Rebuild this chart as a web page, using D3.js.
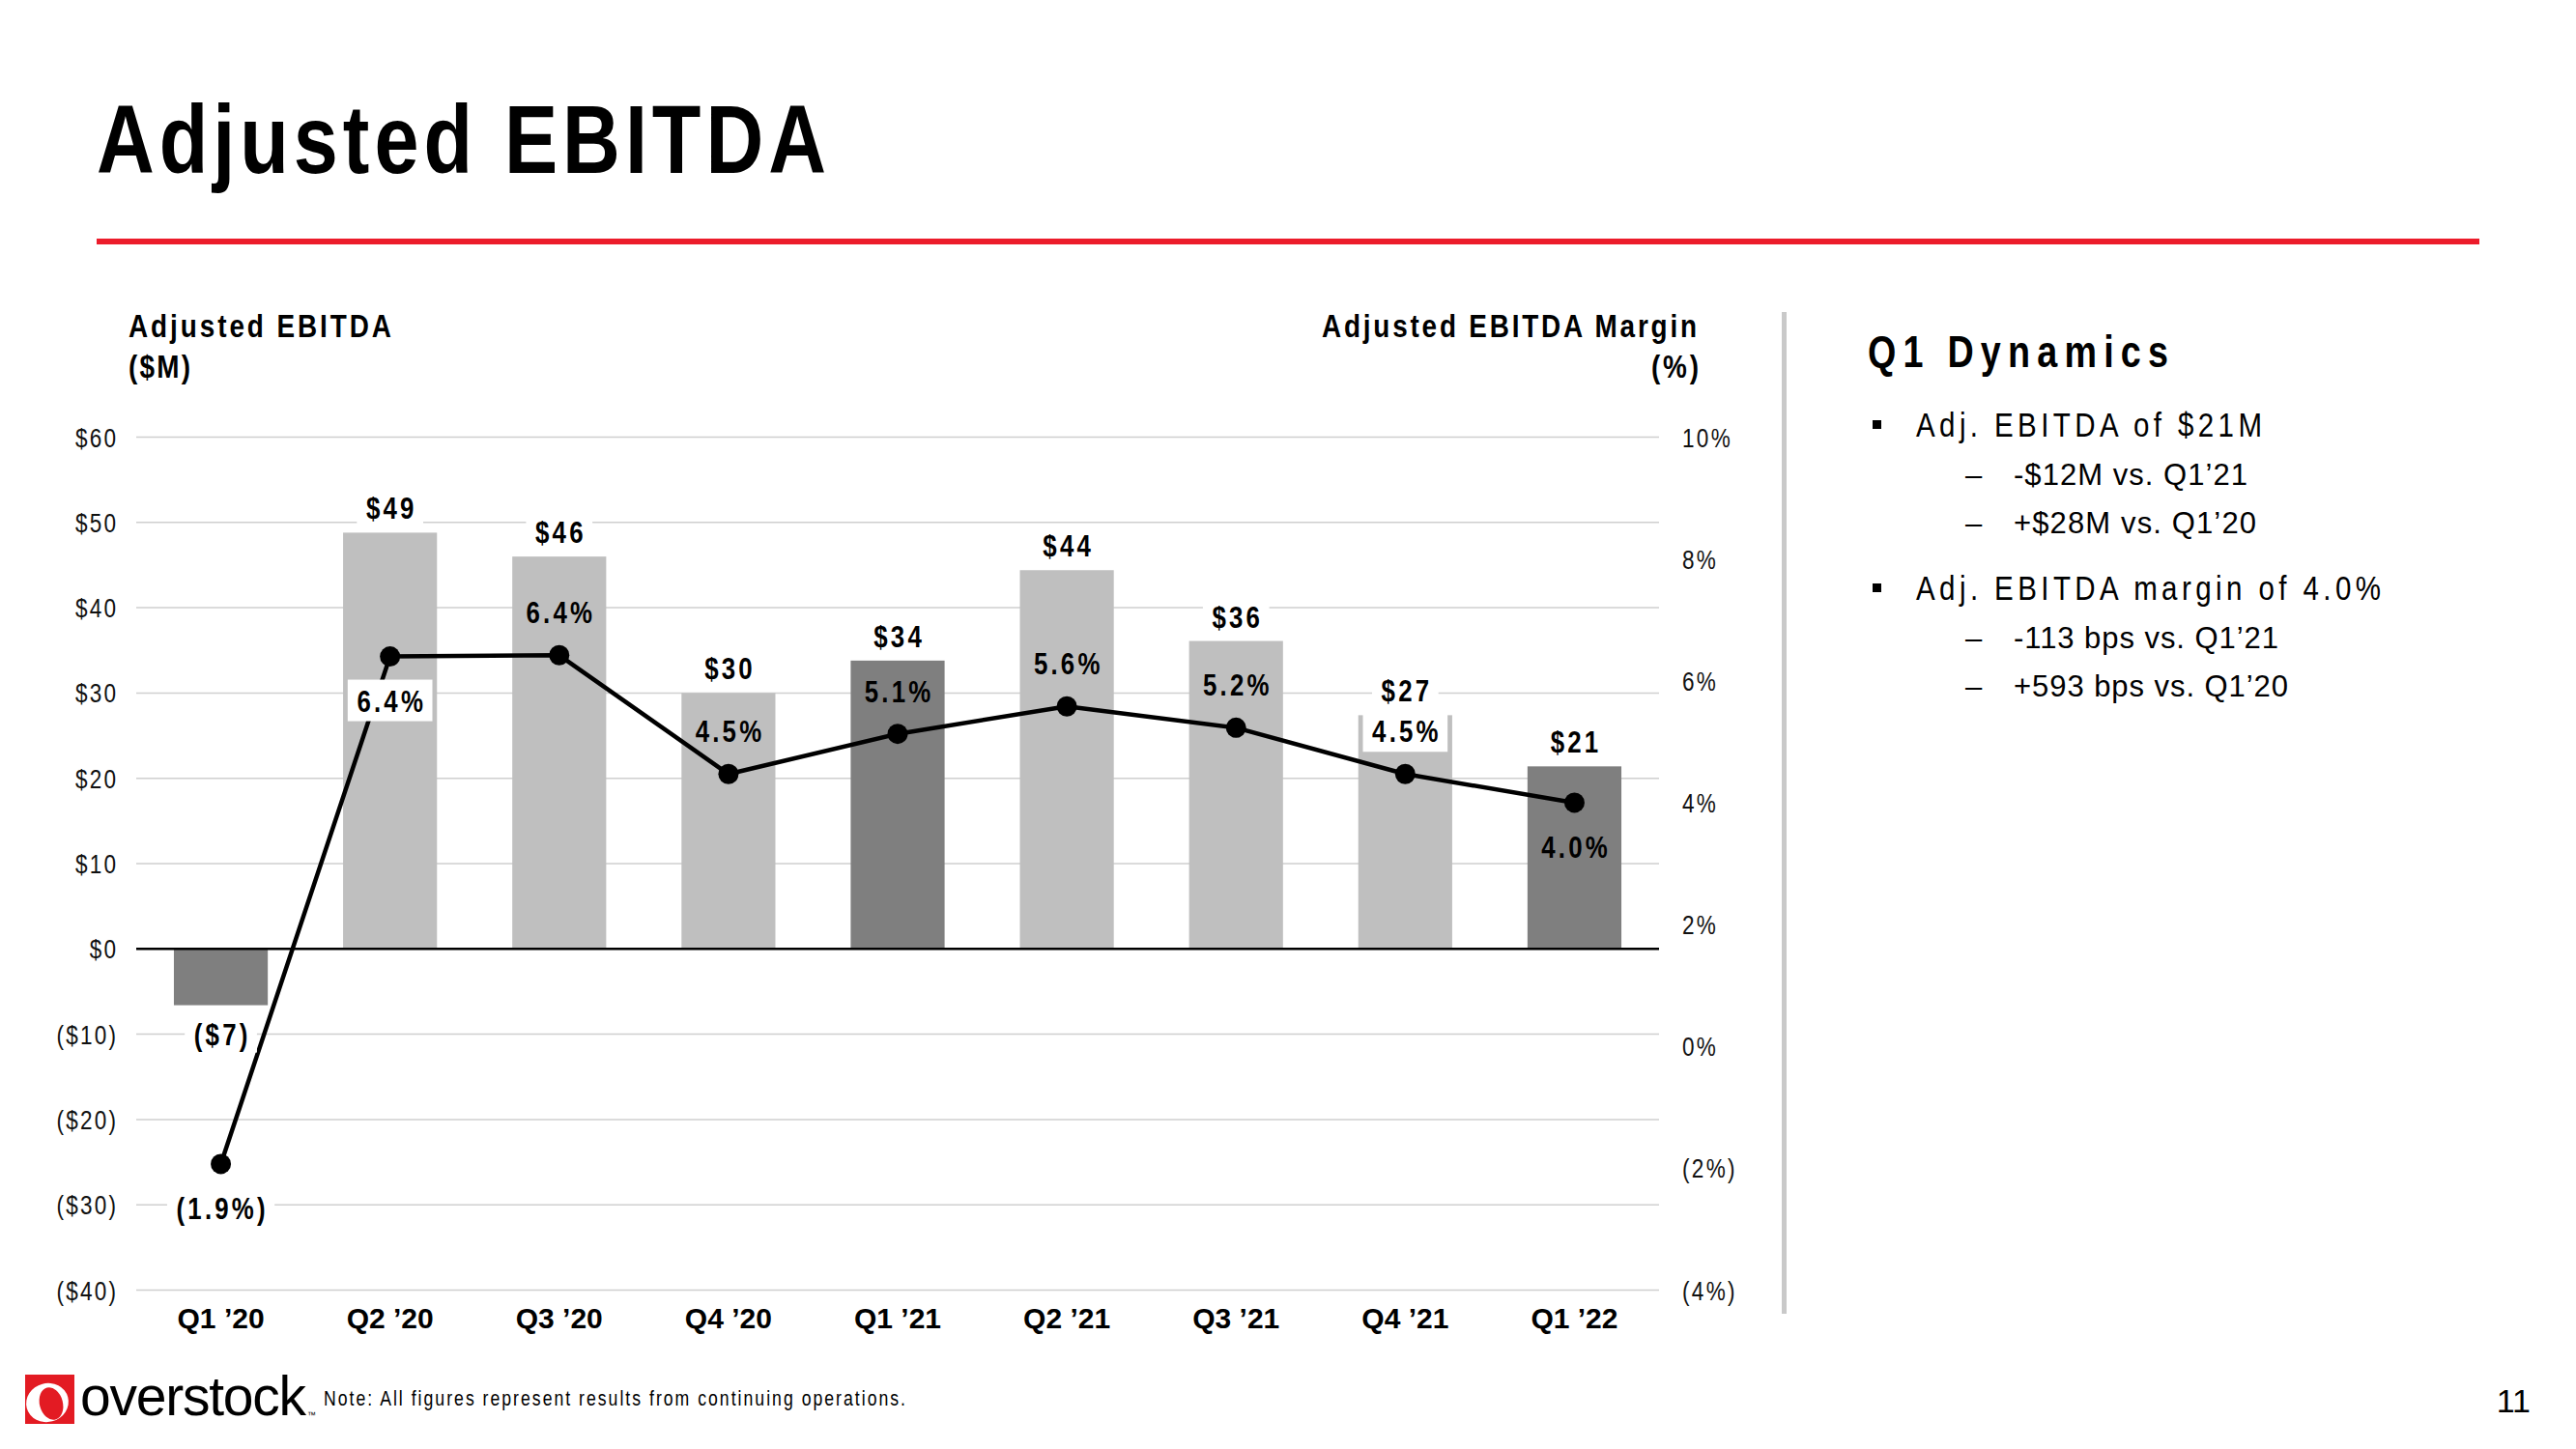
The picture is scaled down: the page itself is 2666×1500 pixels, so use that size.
<!DOCTYPE html>
<html><head><meta charset="utf-8">
<script src="https://cdn.jsdelivr.net/npm/d3@7"></script>
<style>html,body{margin:0;padding:0;background:#fff;overflow:hidden} svg{display:block}</style>
</head><body>
<svg id="chart" width="2666" height="1500"></svg>
<script>
// ---------- data ----------
const categories = ["Q1 ’20","Q2 ’20","Q3 ’20","Q4 ’20","Q1 ’21","Q2 ’21","Q3 ’21","Q4 ’21","Q1 ’22"];
const ebitda = [-6.6, 48.8, 46.0, 30.0, 33.8, 44.4, 36.1, 27.4, 21.4];      // $M
const margin = [-1.93, 6.4, 6.42, 4.47, 5.13, 5.58, 5.23, 4.47, 4.0];      // %
const isQ1 = [true, false, false, false, true, false, false, false, true];
const marginLabelSide = ["below","below","above","above","above","above","above","above","below"];
const marginLabelBoxed = [true, true, false, false, false, false, false, true, false];
const leftTicks = [-40,-30,-20,-10,0,10,20,30,40,50,60];
const rightTicks = [-4,-2,0,2,4,6,8,10];
const titleText = "Adjusted EBITDA";
const leftAxisTitle = ["Adjusted EBITDA", "($M)"];
const rightAxisTitle = ["Adjusted EBITDA Margin", "(%)"];
const panelTitle = "Q1 Dynamics";
const bulletMain = ["Adj. EBITDA of $21M", "Adj. EBITDA margin of 4.0%"];
const bulletSubs = [["-$12M vs. Q1’21", "+$28M vs. Q1’20"], ["-113 bps vs. Q1’21", "+593 bps vs. Q1’20"]];
const noteText = "Note: All figures represent results from continuing operations.";
const pageNumber = "11";

// ---------- font detection ----------
function hasFont(name){
  const c = document.createElement('canvas').getContext('2d');
  const t = 'AdjustedEBITDAmmmwwwlli1234567890';
  c.font = '40px monospace'; const a = c.measureText(t).width;
  c.font = `40px "${name}", monospace`; const b = c.measureText(t).width;
  return Math.abs(a-b) > 0.5;
}
const narrowOK = hasFont('Liberation Sans Narrow');
const NARROW = narrowOK ? "'Liberation Sans Narrow', 'Arial Narrow', sans-serif" : "'Liberation Sans', Arial, sans-serif";
const NSX = narrowOK ? 1 : 0.82;
const WIDE = "'Liberation Sans', Arial, sans-serif";

const svg = d3.select('#chart');

function txt(parent, o){
  const sx = o.narrow ? NSX : 1;
  const ls = o.ls || 0;
  const g = parent.append('g').attr('transform', `translate(${o.x},${o.y}) scale(${sx},1)`);
  const t = g.append('text')
    .attr('x', 0).attr('y', 0)
    .attr('font-family', o.narrow ? NARROW : WIDE)
    .attr('font-size', o.size)
    .attr('font-weight', o.bold ? 700 : 400)
    .attr('fill', o.fill || '#000')
    .attr('text-anchor', o.anchor || 'start')
    .text(o.text);
  if (o.len) {
    t.attr('textLength', o.len / sx).attr('lengthAdjust', 'spacing');
  } else if (ls) {
    t.attr('letter-spacing', ls / sx);
    if (o.anchor === 'end') t.attr('dx', ls / sx);
    if (o.anchor === 'middle') t.attr('dx', ls / (2*sx));
  }
  return {g, t, width: () => t.node().getComputedTextLength() * sx};
}

// ---------- header ----------
txt(svg, {x: 100, y: 179, text: titleText, size: 101, bold: true, narrow: true, len: 755});
svg.append('rect').attr('x', 100).attr('y', 247).attr('width', 2466).attr('height', 6).attr('fill', '#EC1C2B');

// ---------- scales ----------
const x = d3.scaleBand().domain(categories).range([141, 1717]).paddingInner(0.445).paddingOuter(0.2225);
const yL = d3.scaleLinear().domain([-40, 60]).range([1335.5, 452.5]);
const yR = d3.scaleLinear().domain([-4, 10]).range([1335.5, 452.5]);
const cx = c => x(c) + x.bandwidth()/2;

const plot = svg.append('g');

// gridlines
plot.append('g').selectAll('line').data(leftTicks.filter(d => d !== 0)).join('line')
  .attr('x1', 141).attr('x2', 1717)
  .attr('y1', d => yL(d)).attr('y2', d => yL(d))
  .attr('stroke', '#CFCFCF').attr('stroke-width', 1.5);

// left axis labels
const fmtL = v => v < 0 ? `($${Math.abs(v)})` : `$${v}`;
leftTicks.forEach(v => txt(plot, {x: 120, y: yL(v) + 10, text: fmtL(v), size: 27.5, narrow: true, ls: 2.2, anchor: 'end', fill: '#111'}));
// right axis labels
const fmtR = v => v < 0 ? `(${Math.abs(v)}%)` : `${v}%`;
rightTicks.forEach(v => txt(plot, {x: 1741, y: yR(v) + 10, text: fmtR(v), size: 27.5, narrow: true, ls: 2.3, anchor: 'start', fill: '#111'}));

// axis titles
txt(svg, {x: 133, y: 349, text: leftAxisTitle[0], size: 34, bold: true, narrow: true, len: 272});
txt(svg, {x: 133, y: 391, text: leftAxisTitle[1], size: 34, bold: true, narrow: true, len: 64});
txt(svg, {x: 1368, y: 349, text: rightAxisTitle[0], size: 34, bold: true, narrow: true, len: 388});
txt(svg, {x: 1709, y: 391, text: rightAxisTitle[1], size: 34, bold: true, narrow: true, len: 49});

// bars
const data = categories.map((c, i) => ({c, v: ebitda[i], m: margin[i], q1: isQ1[i], side: marginLabelSide[i], boxed: marginLabelBoxed[i]}));
plot.append('g').selectAll('rect').data(data).join('rect')
  .attr('x', d => x(d.c)).attr('width', x.bandwidth())
  .attr('y', d => yL(Math.max(0, d.v)))
  .attr('height', d => Math.abs(yL(d.v) - yL(0)))
  .attr('fill', d => d.q1 ? '#7F7F7F' : '#BFBFBF');

// zero line
plot.append('line').attr('x1', 141).attr('x2', 1717).attr('y1', yL(0)).attr('y2', yL(0))
  .attr('stroke', '#000').attr('stroke-width', 2.5);

// margin line + markers
const line = d3.line().x(d => cx(d.c)).y(d => yR(d.m));
plot.append('path').datum(data).attr('d', line).attr('fill', 'none').attr('stroke', '#000').attr('stroke-width', 4.5).attr('stroke-linejoin', 'round');
plot.append('g').selectAll('circle').data(data).join('circle')
  .attr('cx', d => cx(d.c)).attr('cy', d => yR(d.m)).attr('r', 10.5).attr('fill', '#000');

// category labels
data.forEach(d => txt(plot, {x: cx(d.c), y: 1375, text: d.c, size: 30, bold: true, anchor: 'middle'}));

// bar value labels (white background)
const fmtV = v => v < 0 ? `($${Math.abs(Math.round(v))})` : `$${Math.round(v)}`;
const labG = plot.append('g');
data.forEach(d => {
  const by = d.v >= 0 ? yL(d.v) - 14 : yL(d.v) + 41;
  const bg = labG.append('rect');
  const t = txt(labG, {x: cx(d.c), y: by, text: fmtV(d.v), size: 31.5, bold: true, narrow: true, ls: 3.2, anchor: 'middle'});
  const w = t.width();
  bg.attr('x', cx(d.c) - w/2 - 8).attr('width', w + 16).attr('y', by - 28).attr('height', 36).attr('fill', '#fff');
});

// margin labels
const fmtM = v => v < 0 ? `(${Math.abs(v).toFixed(1)}%)` : `${v.toFixed(1)}%`;
data.forEach(d => {
  const my = yR(d.m);
  const by = d.side === 'above' ? my - 33 : my + 57;
  const bg = labG.append('rect');
  const t = txt(labG, {x: cx(d.c), y: by, text: fmtM(d.m), size: 31.5, bold: true, narrow: true, ls: 3.2, anchor: 'middle'});
  if (d.boxed) {
    const w = t.width();
    bg.attr('x', cx(d.c) - w/2 - 8).attr('width', w + 16).attr('y', by - 33).attr('height', 43).attr('fill', '#fff');
  } else bg.remove();
});

// ---------- separator ----------
svg.append('rect').attr('x', 1844).attr('y', 323).attr('width', 5).attr('height', 1037).attr('fill', '#C9C9C9');

// ---------- right panel ----------
txt(svg, {x: 1933, y: 380, text: panelTitle, size: 46, bold: true, narrow: true, len: 311});
const mainY = [452, 621];
const mainLen = [358, 481];
const subLen = [[242, 251], [274, 284]];
bulletMain.forEach((b, i) => {
  svg.append('rect').attr('x', 1938).attr('y', mainY[i] - 17).attr('width', 9).attr('height', 9).attr('fill', '#000');
  txt(svg, {x: 1983, y: mainY[i], text: b, size: 36, narrow: true, len: mainLen[i]});
  bulletSubs[i].forEach((s, j) => {
    const yy = mainY[i] + 50 * (j + 1);
    txt(svg, {x: 2034, y: yy, text: '–', size: 31});
    txt(svg, {x: 2084, y: yy, text: s, size: 31, len: subLen[i][j]});
  });
});

// ---------- footer ----------
const logo = svg.append('g');
logo.append('rect').attr('x', 26).attr('y', 1423).attr('width', 51).attr('height', 51).attr('fill', '#E31B23');
logo.append('ellipse').attr('cx', 49).attr('cy', 1452).attr('rx', 22).attr('ry', 20).attr('fill', '#fff').attr('transform', 'rotate(-15 49 1452)');
logo.append('ellipse').attr('cx', 53).attr('cy', 1453).attr('rx', 12).attr('ry', 17).attr('fill', '#E31B23').attr('transform', 'rotate(-15 53 1453)');
txt(logo, {x: 83, y: 1465, text: 'overstock', size: 57, len: 234});
txt(logo, {x: 318, y: 1468, text: '™', size: 9});
txt(svg, {x: 335, y: 1455, text: noteText, size: 21.5, narrow: true, len: 602});
txt(svg, {x: 2619, y: 1462, text: pageNumber, size: 34, anchor: 'end'});
</script>
</body></html>
